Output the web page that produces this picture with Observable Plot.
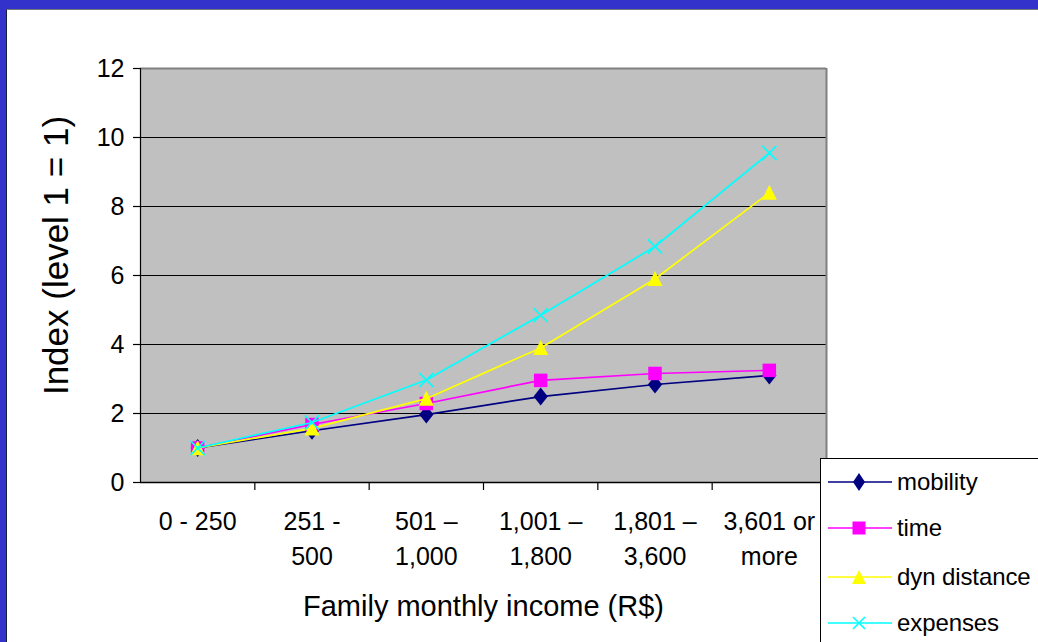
<!DOCTYPE html>
<html>
<head>
<meta charset="utf-8">
<script src="https://cdn.jsdelivr.net/npm/d3@7"></script>
<script src="https://cdn.jsdelivr.net/npm/@observablehq/plot@0.6"></script>
<style>
  html, body { margin: 0; padding: 0; }
  body { width: 1038px; height: 642px; overflow: hidden; background: #3333cc; position: relative; font-family: "Liberation Sans", Arial, sans-serif; }
  #panel { position: absolute; left: 6px; top: 9px; width: 1040px; height: 640px; background: #fff; border-left: 1px solid #1c1c3c; border-top: 1px solid #777; }
  #chart { position: absolute; left: 7px; top: 9px; }
  #legend { position: absolute; left: 820px; top: 458px; width: 240px; height: 200px; background: #fff; border: 1px solid #000; box-sizing: border-box; }
  .row { position: absolute; left: 0; height: 30px; width: 240px; }
  .row svg { position: absolute; left: 7px; top: 0; }
  .row span { position: absolute; left: 76px; top: 1px; font-size: 24px; line-height: 28px; color: #000; white-space: nowrap; letter-spacing: -0.1px; }
</style>
</head>
<body>
<div id="panel"></div>
<div id="chart"></div>
<div id="legend"></div>
<script>
// ---- data ----
const categories = ["0 - 250", "251 -\n500", "501 –\n1,000", "1,001 –\n1,800", "1,801 –\n3,600", "3,601 or\nmore"];
const mobility    = [1, 1.5, 1.97, 2.49, 2.84, 3.1];
const time        = [1, 1.68, 2.29, 2.96, 3.16, 3.25];
const dynDistance = [1, 1.57, 2.43, 3.9, 5.9, 8.4];
const expenses    = [1, 1.74, 2.97, 4.85, 6.84, 9.55];
const seriesNames = ["mobility", "time", "dyn distance", "expenses"];
const yTicks = [0, 2, 4, 6, 8, 10, 12];
const gridValues = [2, 4, 6, 8, 10];
const xTitle = "Family monthly income (R$)";
const yTitle = "Index (level 1 = 1)";

// ---- styles ----
const colors = {"mobility": "#000080", "time": "#ff00ff", "dyn distance": "#ffff00", "expenses": "#00ffff"};
const symDiamond = {draw(ctx, size) { const r = Math.sqrt(size / Math.PI); ctx.moveTo(0, -1.2*r); ctx.lineTo(0.95*r, 0); ctx.lineTo(0, 1.2*r); ctx.lineTo(-0.95*r, 0); ctx.closePath(); }};
const symSquare  = {draw(ctx, size) { const r = Math.sqrt(size / Math.PI) * 0.9; ctx.rect(-r, -r, 2*r, 2*r); }};
const symTri     = {draw(ctx, size) { const r = Math.sqrt(size / Math.PI); ctx.moveTo(0, -1.05*r); ctx.lineTo(r, 0.95*r); ctx.lineTo(-r, 0.95*r); ctx.closePath(); }};
const symTimes   = {draw(ctx, size) { const r = Math.sqrt(size / Math.PI) * 0.95; ctx.moveTo(-r, -r); ctx.lineTo(r, r); ctx.moveTo(r, -r); ctx.lineTo(-r, r); }};
const symbols = {"mobility": symDiamond, "time": symSquare, "dyn distance": symTri, "expenses": symTimes};

const seriesValues = [mobility, time, dynDistance, expenses];
const rows = seriesNames.map((name, s) => seriesValues[s].map((v, i) => ({series: name, idx: i + 0.5, value: v})));
const catRows = categories.map((c, i) => ({idx: i + 0.5, label: c}));

const seriesMarks = rows.flatMap((data, s) => {
  const name = seriesNames[s];
  const c = colors[name];
  const isStroke = name === "expenses";
  return [
    Plot.line(data, {x: "idx", y: "value", stroke: c, strokeWidth: 1.7}),
    Plot.dot(data, {x: "idx", y: "value", symbol: symbols[name], r: 7.5,
      fill: isStroke ? "none" : c, stroke: isStroke ? c : "none", strokeWidth: isStroke ? 1.6 : 0})
  ];
});

const chart = Plot.plot({
  width: 1031, height: 633,
  marginLeft: 133, marginRight: 212, marginTop: 59, marginBottom: 160,
  style: {fontFamily: "'Liberation Sans', Arial, sans-serif", fontSize: "24px", background: "transparent", color: "#000", overflow: "visible"},
  x: {domain: [0, 6], axis: null},
  y: {domain: [0, 12], axis: null},
  marks: [
    Plot.frame({fill: "#c0c0c0"}),
    Plot.ruleY(gridValues, {stroke: "#000", strokeWidth: 1.2}),
    Plot.ruleY([12], {stroke: "#808080", strokeWidth: 2}),
    Plot.ruleX([6], {stroke: "#808080", strokeWidth: 2}),
    Plot.ruleX([0], {stroke: "#000", strokeWidth: 1.2}),
    Plot.ruleY([0], {stroke: "#000", strokeWidth: 1.5}),
    Plot.axisY(yTicks, {tickSize: 7, tickPadding: 9, fontSize: 25, label: null, stroke: "#000", strokeWidth: 1.2}),
    Plot.axisX([1, 2, 3, 4, 5], {tickSize: 8, tickFormat: () => "", label: null, stroke: "#000", strokeWidth: 1.2}),
    ...seriesMarks,
    Plot.text(catRows, {x: "idx", y: 0, text: "label", dy: 23, lineAnchor: "top", lineHeight: 1.4, fontSize: 25, fill: "#000"}),
    Plot.text([xTitle], {frameAnchor: "bottom", dy: 133, fontSize: 29, fill: "#000"}),
    Plot.text([yTitle], {frameAnchor: "left", textAnchor: "middle", rotate: -90, dx: -84, dy: -20, fontSize: 35, fill: "#000"})
  ]
});
document.getElementById("chart").appendChild(chart);

// ---- legend ----
const legend = document.getElementById("legend");
const legendTops = [8, 54, 103, 149];
seriesNames.forEach((name, i) => {
  const row = document.createElement("div");
  row.className = "row";
  row.style.top = legendTops[i] + "px";
  const c = colors[name];
  let marker = "";
  if (name === "mobility") marker = `<path d="M31,6 L37,15 L31,24 L25,15 Z" fill="${c}"/>`;
  if (name === "time") marker = `<rect x="24.5" y="8.5" width="13" height="13" fill="${c}"/>`;
  if (name === "dyn distance") marker = `<path d="M31,8 L38,22 L24,22 Z" fill="${c}"/>`;
  if (name === "expenses") marker = `<path d="M25,9 L37,21 M37,9 L25,21" stroke="${c}" stroke-width="1.6" fill="none"/>`;
  row.innerHTML = `<svg width="66" height="30"><line x1="0" x2="64" y1="15" y2="15" stroke="${c}" stroke-width="1.7"/>${marker}</svg><span>${name}</span>`;
  legend.appendChild(row);
});
</script>
</body>
</html>
